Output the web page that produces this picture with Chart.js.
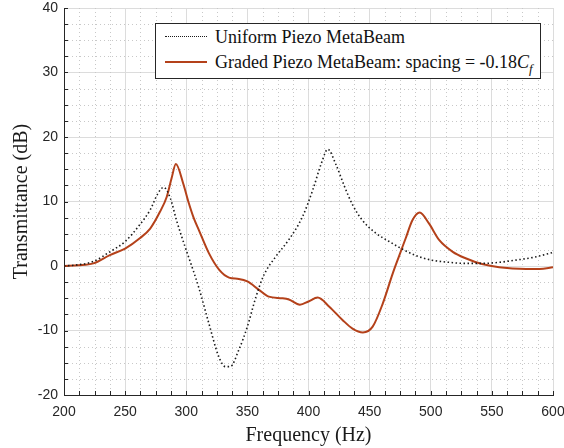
<!DOCTYPE html>
<html>
<head>
<meta charset="utf-8">
<script src="https://cdn.jsdelivr.net/npm/chart.js@4.4.1/dist/chart.umd.min.js"></script>
<style>
  html, body { margin: 0; padding: 0; background: #fff; }
  #wrap { position: relative; width: 564px; height: 448px; }
  #legend {
    position: absolute; left: 155px; top: 23px; width: 384px; height: 54px;
    border: 1.5px solid #262626; background: #fff;
    font-family: 'Liberation Serif', 'Times New Roman', serif; font-size: 18px; color: #111;
  }
  .row { position: absolute; left: 0; height: 24px; line-height: 24px; white-space: nowrap; }
  .sample { position: absolute; left: 9px; width: 42px; top: 11px; }
  .txt { position: absolute; left: 59px; top: 0; }
  sub { font-size: 13px; vertical-align: -5px; line-height: 0; }
</style>
</head>
<body>
<div id="wrap">
  <canvas id="chart" width="564" height="448"></canvas>
  <div id="legend">
    <div class="row" style="top:1px">
      <div class="sample" style="border-top:1.5px dotted #1a1a1a"></div>
      <div class="txt">Uniform Piezo MetaBeam</div>
    </div>
    <div class="row" style="top:26px">
      <div class="sample" style="border-top:2px solid #b4411a"></div>
      <div class="txt">Graded Piezo MetaBeam: spacing = -0.18<i>C</i><sub><i>f</i></sub></div>
    </div>
  </div>
</div>
<script>
// Uniform Piezo MetaBeam (dotted)
const uniformFreq = [200, 212, 224, 237.5, 250, 262, 270.5, 277, 281.5, 287, 292, 299, 305, 310.5, 318.5, 326.5, 332, 336, 343, 350, 357, 363.5, 373, 384, 395, 403.5, 410.5, 415.8, 422.5, 429.5, 436, 444, 455, 466, 476, 488, 501, 515, 528, 542, 556, 569, 583, 598, 600];
const uniformDb   = [0, 0.2, 0.7, 2.2, 3.8, 6.4, 8.7, 11.3, 12.2, 10.5, 7.1, 3.0, -0.3, -3.5, -8.9, -14.0, -15.6, -15.6, -13.0, -9.4, -4.8, -1.4, 1.4, 4.1, 7.6, 11.8, 15.9, 18.1, 15.7, 12.3, 9.5, 7.1, 5.1, 3.8, 2.7, 1.6, 0.9, 0.57, 0.4, 0.4, 0.57, 0.9, 1.3, 2.0, 2.1];

// Graded Piezo MetaBeam (solid)
const gradedFreq = [200, 212, 224, 237.5, 250, 262, 270.5, 278.5, 284, 288, 291.5, 297.5, 302, 306, 310.5, 318.5, 327, 335, 343, 350, 359.5, 367.5, 378.5, 384, 393, 400, 407.5, 417, 428, 436, 444.5, 452.5, 460.8, 469, 474, 479.5, 485, 491, 498.5, 507, 518, 528.5, 542, 556, 578, 589, 600];
const gradedDb   = [0, 0.1, 0.4, 1.7, 2.7, 4.3, 5.8, 8.4, 10.7, 13.6, 15.8, 12.8, 9.8, 7.5, 5.5, 2.0, -0.6, -1.8, -2.0, -2.4, -3.7, -4.75, -5.0, -5.2, -6.0, -5.5, -4.9, -6.3, -8.4, -9.7, -10.3, -9.4, -5.8, -1.1, 1.5, 4.3, 7.1, 8.3, 6.6, 4.0, 2.2, 1.2, 0.3, -0.2, -0.45, -0.45, -0.2];

const xTicks = [200, 250, 300, 350, 400, 450, 500, 550, 600];
const yTicks = [-20, -10, 0, 10, 20, 30, 40];

const AXIS = '#262626';
const tickFont = { family: "'Liberation Sans', Arial, sans-serif", size: 14 };
const titleFont = { family: "'Liberation Serif', 'Times New Roman', serif", size: 20 };

// minor dotted grid + inward tick marks, MATLAB style
const minorGrid = {
  id: 'minorGrid',
  beforeDatasetsDraw(chart) {
    const { ctx, chartArea: a, scales: { x, y } } = chart;
    ctx.save();
    ctx.strokeStyle = '#c8c8c8';
    ctx.lineWidth = 1;
    ctx.setLineDash([1, 3]);
    for (let v = 200; v <= 600; v += 12.5) {
      if (v % 50 === 0) continue;
      const px = Math.round(x.getPixelForValue(v)) + 0.5;
      ctx.beginPath(); ctx.moveTo(px, a.top); ctx.lineTo(px, a.bottom); ctx.stroke();
    }
    for (let v = -20; v <= 40; v += 2.5) {
      if (v % 10 === 0) continue;
      const py = Math.round(y.getPixelForValue(v)) + 0.5;
      ctx.beginPath(); ctx.moveTo(a.left, py); ctx.lineTo(a.right, py); ctx.stroke();
    }
    ctx.setLineDash([]);
    ctx.strokeStyle = AXIS;
    for (let v = 200; v <= 600; v += 12.5) {
      const px = Math.round(x.getPixelForValue(v)) + 0.5;
      ctx.beginPath(); ctx.moveTo(px, a.bottom); ctx.lineTo(px, a.bottom - 4); ctx.stroke();
    }
    for (let v = -20; v <= 40; v += 2.5) {
      const py = Math.round(y.getPixelForValue(v)) + 0.5;
      ctx.beginPath(); ctx.moveTo(a.left, py); ctx.lineTo(a.left + 4, py); ctx.stroke();
    }
    ctx.restore();
  }
};

new Chart(document.getElementById('chart').getContext('2d'), {
  type: 'line',
  data: {
    datasets: [
      {
        label: 'Uniform Piezo MetaBeam',
        data: uniformFreq.map((f, i) => ({ x: f, y: uniformDb[i] })),
        borderColor: '#1a1a1a',
        borderWidth: 1.6,
        borderDash: [1.5, 2.5],
        pointRadius: 0,
        cubicInterpolationMode: 'monotone'
      },
      {
        label: 'Graded Piezo MetaBeam: spacing = -0.18Cf',
        data: gradedFreq.map((f, i) => ({ x: f, y: gradedDb[i] })),
        borderColor: '#b4411a',
        borderWidth: 2,
        pointRadius: 0,
        cubicInterpolationMode: 'monotone'
      }
    ]
  },
  options: {
    responsive: false,
    animation: false,
    layout: { padding: 0, autoPadding: false },
    plugins: { legend: { display: false }, tooltip: { enabled: false } },
    scales: {
      x: {
        type: 'linear', min: 200, max: 600,
        afterBuildTicks: s => { s.ticks = xTicks.map(v => ({ value: v })); },
        afterFit: s => { s.height = 53; s.paddingLeft = 0; s.paddingRight = 11; },
        ticks: { color: AXIS, font: tickFont, padding: 9, maxRotation: 0 },
        grid: { color: '#dcdcdc', lineWidth: 1, drawTicks: false },
        border: { color: AXIS, width: 1 },
        title: { display: true, text: 'Frequency (Hz)', color: '#1a1a1a', font: titleFont, padding: { top: 2, bottom: 0 } }
      },
      y: {
        min: -20, max: 40,
        afterBuildTicks: s => { s.ticks = yTicks.map(v => ({ value: v })); },
        afterFit: s => { s.width = 64; s.paddingTop = 8; s.paddingBottom = 0; },
        ticks: { color: AXIS, font: tickFont, padding: 6 },
        grid: { color: '#dcdcdc', lineWidth: 1, drawTicks: false },
        border: { color: AXIS, width: 1 },
        title: { display: true, text: 'Transmittance (dB)', color: '#1a1a1a', font: titleFont, padding: { top: 10, bottom: 4 } }
      }
    }
  },
  plugins: [minorGrid]
});
</script>
</body>
</html>
